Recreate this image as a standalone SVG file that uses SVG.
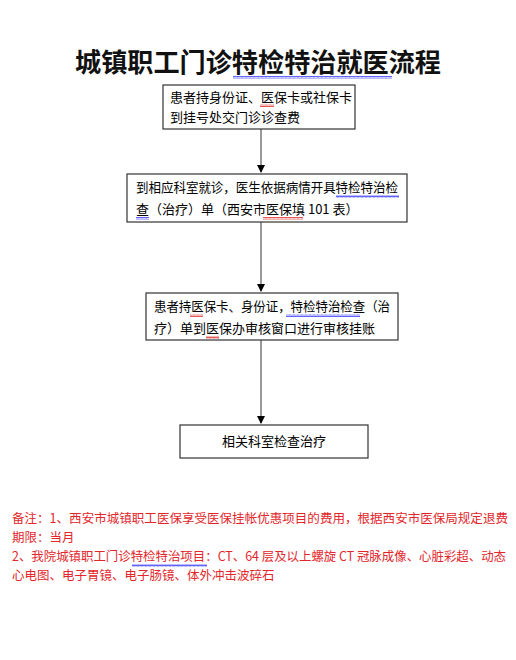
<svg xmlns="http://www.w3.org/2000/svg" width="516" height="660" viewBox="0 0 516 660">
<style>
.t{font-family:"Noto Sans CJK SC","Liberation Sans",sans-serif;font-size:13px;fill:#000}
.title{font-family:"Noto Sans CJK SC","Liberation Serif",serif;font-size:26px;font-weight:600;fill:#111}
.n{font-family:"Noto Sans CJK SC","Liberation Sans",sans-serif;font-size:12.5px;fill:#e3262b}
.box{fill:#fff;stroke:#333;stroke-width:1.2}
.arr{stroke:#777;stroke-width:1.5;fill:none;marker-end:url(#ah)}
.wb{fill:url(#waveB)}
.wr{fill:url(#waveR)}
</style>
<defs>
<marker id="ah" markerWidth="8" markerHeight="8" refX="7" refY="4" orient="auto" markerUnits="userSpaceOnUse">
<path d="M0,0 L8,4 L0,8 z" fill="#000"/>
</marker>
<pattern id="waveB" width="4" height="3" patternUnits="userSpaceOnUse">
<path d="M0,2.5 L1,0.5 L2,2.5 L3,0.5 L4,2.5" stroke="#3b3bff" stroke-width="0.8" fill="none"/>
</pattern>
<pattern id="waveR" width="4" height="3" patternUnits="userSpaceOnUse">
<path d="M0,2.5 L1,0.5 L2,2.5 L3,0.5 L4,2.5" stroke="#e03030" stroke-width="0.8" fill="none"/>
</pattern>
</defs>
<rect width="516" height="660" fill="#fff"/>
<g id="title">
<text class="title" x="258" y="72" text-anchor="middle" textLength="366" lengthAdjust="spacingAndGlyphs">城镇职工门诊特检特治就医流程</text>
<rect class="wb" x="233" y="76" width="159" height="3"/>
</g>
<g id="connectors">
<line class="arr" x1="261" y1="129" x2="261" y2="172"/>
<line class="arr" x1="261" y1="222" x2="261" y2="291"/>
<line class="arr" x1="261" y1="340" x2="261" y2="423"/>
</g>
<g id="n1">
<rect class="box" x="163" y="85" width="192" height="44"/>
<text class="t" x="170" y="102">患者持身份证、医保卡或社保卡</text>
<text class="t" x="170" y="122">到挂号处交门诊诊查费</text>
<rect class="wr" x="260" y="104" width="14" height="3"/>
</g>
<g id="n2">
<rect class="box" x="127" y="174" width="280" height="48"/>
<text class="t" x="136" y="192" textLength="262" lengthAdjust="spacingAndGlyphs">到相应科室就诊，医生依据病情开具特检特治检</text>
<text class="t" x="136" y="214">查（治疗）单（西安市医保填 101 表）</text>
<rect class="wb" x="336" y="195" width="63" height="3"/>
<rect class="wb" x="136" y="217" width="13" height="3"/>
<rect class="wr" x="263" y="217" width="40" height="3"/>
</g>
<g id="n3">
<rect class="box" x="146" y="293" width="252" height="47"/>
<text class="t" x="154" y="311" textLength="236" lengthAdjust="spacingAndGlyphs">患者持医保卡、身份证，特检特治检查（治</text>
<text class="t" x="154" y="333">疗）单到医保办审核窗口进行审核挂账</text>
<rect class="wr" x="190" y="314" width="13" height="3"/>
<rect class="wb" x="286" y="314" width="74" height="3"/>
<rect class="wr" x="206" y="336" width="13" height="3"/>
</g>
<g id="n4">
<rect class="box" x="180" y="425" width="188" height="33"/>
<text class="t" x="274" y="446" text-anchor="middle">相关科室检查治疗</text>
</g>
<g id="notes">
<text class="n" x="12" y="523" textLength="496" lengthAdjust="spacingAndGlyphs">备注：1、西安市城镇职工医保享受医保挂帐优惠项目的费用，根据西安市医保局规定退费</text>
<text class="n" x="12" y="542">期限：当月</text>
<text class="n" x="12" y="561" textLength="494" lengthAdjust="spacingAndGlyphs">2、我院城镇职工门诊特检特治项目：CT、64 层及以上螺旋 CT 冠脉成像、心脏彩超、动态</text>
<text class="n" x="12" y="580">心电图、电子胃镜、电子肠镜、体外冲击波碎石</text>
<rect class="wb" x="132" y="564" width="75" height="3"/>
</g>
</svg>
